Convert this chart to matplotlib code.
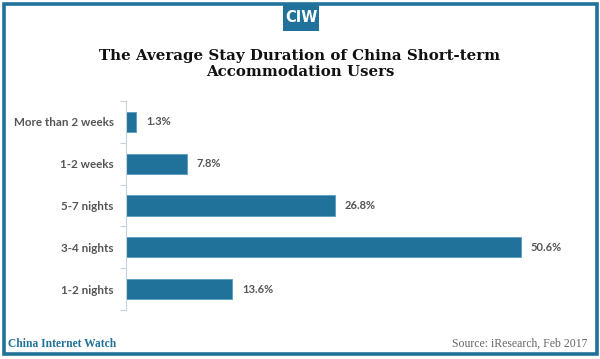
import matplotlib
matplotlib.use("Agg")
import matplotlib.pyplot as plt
from matplotlib.patches import Rectangle

categories = ["More than 2 weeks", "1-2 weeks", "5-7 nights", "3-4 nights", "1-2 nights"]
values = [1.3, 7.8, 26.8, 50.6, 13.6]
value_labels = ["1.3%", "7.8%", "26.8%", "50.6%", "13.6%"]

title = "The Average Stay Duration of China Short-term\nAccommodation Users"
brand = "China Internet Watch"
source = "Source: iResearch, Feb 2017"
logo = "CIW"

W, H = 600, 359
BLUE = "#21729b"
BAR = "#21729b"
GRAY = "#555555"

fig = plt.figure(figsize=(W / 100, H / 100), dpi=100)
fig.patch.set_facecolor("white")

def fx(px):
    return px / W

def fy(py):
    return 1 - py / H

# frame border
fig.add_artist(Rectangle((fx(3.5), fy(354)), fx(593), (351 - 0.5) / H,
                         transform=fig.transFigure, fill=False,
                         edgecolor=BLUE, linewidth=2.6))
# logo box
fig.add_artist(Rectangle((fx(283), fy(31)), fx(36), 28 / H,
                         transform=fig.transFigure, facecolor=BLUE,
                         edgecolor="none"))
fig.text(fx(301), fy(17), logo, ha="center", va="center", color="white",
         fontsize=10.5, fontweight="heavy", family="DejaVu Sans Condensed")

fig.text(0.5, fy(64), title, ha="center", va="center", fontsize=10.8,
         fontweight="heavy", family="DejaVu Serif", linespacing=1.12, color="#111111")

fig.text(fx(8), fy(344), brand, ha="left", va="center", fontsize=8.3,
         fontweight="bold", family="Liberation Serif", color=BLUE)
fig.text(fx(587), fy(344), source, ha="right", va="center", fontsize=8.5,
         family="Liberation Serif", color="#666666")

ax_left, ax_right = 126, 590
ax_top, ax_bot = 101, 310
ax = fig.add_axes([fx(ax_left), fy(ax_bot), fx(ax_right - ax_left), (ax_bot - ax_top) / H])
scale = (521 - 126) / 50.6
ax.set_xlim(0, (ax_right - ax_left) / scale)
ypos = list(range(len(categories)))
ax.barh(ypos, values, height=0.48, color=BAR, edgecolor="#5a9cc0", linewidth=0.6)
ax.set_ylim(len(categories) - 0.5, -0.5)
ax.set_yticks([y + 0.5 for y in [-1] + ypos], minor=False)
ax.set_yticks(ypos, minor=True)
ax.set_yticklabels([""] * (len(categories) + 1))
ax.set_yticklabels(categories, minor=True)
ax.tick_params(axis="y", which="major", length=4, color="#c8d4dc", width=0.8)
ax.tick_params(axis="y", which="minor", length=0, pad=9, labelsize=8.4,
               labelcolor=GRAY)
for lbl in ax.get_yticklabels(minor=True):
    lbl.set_fontweight("bold")
    lbl.set_family("Lato")
ax.set_xticks([])
for s in ["top", "right", "bottom"]:
    ax.spines[s].set_visible(False)
ax.spines["left"].set_color("#c8d4dc")
ax.spines["left"].set_linewidth(0.8)

for y, v, t in zip(ypos, values, value_labels):
    ax.annotate(t, (v, y), xytext=(7, 0), textcoords="offset points",
                ha="left", va="center", fontsize=8, fontweight="bold",
                family="Lato", color=GRAY)

fig.savefig("out.png", dpi=100, facecolor="white")
